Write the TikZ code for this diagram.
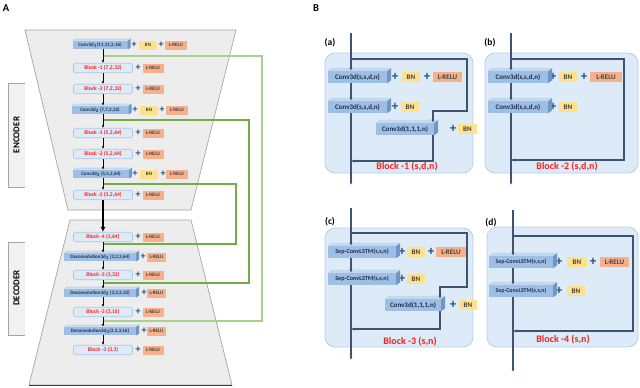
\documentclass[tikz,border=0pt]{standalone}
\usepackage{fontspec}
\setmainfont{Carlito}
\usetikzlibrary{arrows.meta}
\definecolor{trapfill}{HTML}{EDEDED}
\definecolor{trapline}{HTML}{A5A5A5}
\definecolor{blkfill}{HTML}{DEEBF7}
\definecolor{blkline}{HTML}{A9C6E8}
\definecolor{cnvfill}{HTML}{9DBFE6}
\definecolor{cnvside}{HTML}{6F96C6}
\definecolor{cnvtop}{HTML}{C3D7EF}
\definecolor{bnfill}{HTML}{FFE08C}
\definecolor{lrfill}{HTML}{F6B08C}
\definecolor{pluscol}{HTML}{1F4E79}
\definecolor{grnA}{HTML}{A9D18E}
\definecolor{grnB}{HTML}{70AD47}
\definecolor{panfill}{HTML}{DDEAF7}
\definecolor{panline}{HTML}{B7CFEA}
\definecolor{flow}{HTML}{3E5470}
\definecolor{txtnavy}{HTML}{1F2D4A}
\definecolor{blkred}{HTML}{FF2020}
\newcommand\tdside[3]{%
  \fill[cnvside] (#1.south east) -- (#1.north east) -- ([shift={(#2,-#3)}]#1.north east) -- ([shift={(#2,-#3)}]#1.south east) -- cycle;
  \fill[cnvtop] (#1.north west) -- ([shift={(#2,-#3)}]#1.north west) -- ([shift={(#2,-#3)}]#1.north east) -- (#1.north east) -- cycle;}
\tikzset{
  blkA/.style={draw=blkline, fill=blkfill, rounded corners=1.5, line width=0.6, minimum width=59, minimum height=9.5, inner sep=0, font=\fontsize{5.6}{6}\selectfont\bfseries, text=blkred},
  cnvA/.style={fill=cnvfill, minimum height=8.5, inner sep=0, font=\fontsize{5}{6}\selectfont\bfseries, text=txtnavy},
  bnA/.style={fill=bnfill, minimum width=18, minimum height=9, inner sep=0, font=\fontsize{5}{6}\selectfont\bfseries, text=black!75},
  lrA/.style={fill=lrfill, minimum height=9, inner sep=0, font=\fontsize{5}{6}\selectfont\bfseries, text=black!75},
  plA/.style={inner sep=0, font=\fontsize{10}{10}\selectfont\bfseries, text=pluscol},
  arrA/.style={draw=black, line width=0.7, -{Latex[length=2.6,width=2.6]}},
  grn/.style={line width=1.2, -{Latex[length=3,width=3]}},
  cnvB/.style={fill=cnvfill, minimum height=12, inner sep=0, font=\fontsize{7}{8}\selectfont\bfseries, text=txtnavy},
  bnB/.style={fill=bnfill, minimum width=18, minimum height=10, inner sep=0, font=\fontsize{7}{8}\selectfont\bfseries, text=black!75},
  lrB/.style={fill=lrfill, minimum height=10, inner sep=0, font=\fontsize{7}{8}\selectfont\bfseries, text=black!75},
  plB/.style={inner sep=0, font=\fontsize{13}{13}\selectfont\bfseries, text=pluscol},
  flw/.style={draw=flow, line width=1.1, -{Latex[length=3.5,width=3.2]}},
  panel/.style={fill=panfill, draw=panline, line width=0.8, rounded corners=10},
  blkB/.style={inner sep=0, font=\fontsize{10}{11}\selectfont\bfseries, text=blkred},
  lab/.style={inner sep=0, font=\fontsize{9.5}{10}\selectfont\bfseries},
}
\begin{document}
\begin{tikzpicture}[x=1pt,y=-1pt]
\useasboundingbox (0,0) rectangle (640,388);
\fill[white] (0,0) rectangle (640,388);
% ---------- Panel A ----------
\node[lab, font=\fontsize{10.5}{11}\selectfont\bfseries] (labA) at (6,8) {A};
\node[lab, font=\fontsize{10.5}{11}\selectfont\bfseries] (labB) at (316,8) {B};
\filldraw[fill=trapfill, draw=trapline, line width=0.7] (25,30) -- (236,30) -- (191,210) -- (68,210) -- cycle;
\filldraw[fill=trapfill, draw=trapline, line width=0.7] (70,220) -- (191,220) -- (232,385) -- (29,385) -- cycle;
\draw[black!75, line width=1] (29,385) -- (232,385);
% side labels
\fill[black!5] (8,83) rectangle (25,187);
\draw[trapline, line width=0.7] (25,83) -- (8,83) -- (8,187) -- (25,187);
\node[rotate=90, inner sep=0, font=\fontsize{9}{9}\selectfont\bfseries] (enc) at (16.5,135) {ENCODER};
\fill[black!5] (8,242) rectangle (25,335);
\draw[trapline, line width=0.7] (25,242) -- (8,242) -- (8,335) -- (25,335);
\node[rotate=90, inner sep=0, font=\fontsize{9}{9}\selectfont\bfseries] (dec) at (16.5,288) {DECODER};
% green skip connections
\coordinate (g1s) at (103,56); \coordinate (g1e) at (103,321);
\coordinate (g2s) at (103,120); \coordinate (g2e) at (103,283);
\coordinate (g3s) at (103,184); \coordinate (g3e) at (103,244);
\draw[grn, draw=grnA] (g1s) -- (262,56) |- (g1e);
\draw[grn, draw=grnB] (g2s) -- (249,120) |- (g2e);
\draw[grn, draw=grnB] (g3s) -- (236,184) |- (g3e);
% conv rows
\node[cnvA, minimum width=55] (c1) at (100,45) {Conv3d\textsubscript{1}(11,11,2,16)};
\node[plA] (c1p1) at (134,45) {+};
\node[bnA] (c1bn) at (148,45) {BN};
\node[plA] (c1p2) at (161,45) {+};
\node[lrA, minimum width=22] (c1lr) at (176,45) {L-RELU};
\node[cnvA, minimum width=57] (c2) at (100,110) {Conv3d\textsubscript{2} (7,7,2,32)};
\node[plA] (c2p1) at (135,110) {+};
\node[bnA] (c2bn) at (149,110) {BN};
\node[plA] (c2p2) at (162,110) {+};
\node[lrA, minimum width=22] (c2lr) at (177,110) {L-RELU};
\node[cnvA, minimum width=56] (c3) at (101,174) {Conv3d\textsubscript{3} (5,5,2,64)};
\node[plA] (c3p1) at (135,174) {+};
\node[bnA] (c3bn) at (149,174) {BN};
\node[plA] (c3p2) at (163,174) {+};
\node[lrA, minimum width=22] (c3lr) at (177,174) {L-RELU};
% deconv rows
\node[cnvA, minimum width=72] (d1) at (100,257) {Deconvolution3d\textsubscript{1} (3,3,3,64)};
\node[plA] (d1p) at (143,257) {+};
\node[lrA, minimum width=19] (d1lr) at (156.5,257) {L-RELU};
\node[cnvA, minimum width=72] (d2) at (100,293) {Deconvolution3d\textsubscript{2} (3,3,3,32)};
\node[plA] (d2p) at (144,293) {+};
\node[lrA, minimum width=19] (d2lr) at (156.5,293) {L-RELU};
\node[cnvA, minimum width=72] (d3) at (100,331) {Deconvolution3d\textsubscript{3}(3,3,3,16)};
\node[plA] (d3p) at (144,331) {+};
\node[lrA, minimum width=19] (d3lr) at (156.5,331) {L-RELU};
\foreach \n in {c1,c2,c3,d1,d2,d3} {\tdside{\n}{3}{2}}
% block rows
\foreach \n/\y/\t in {b1/68/{Block -1 (7,2,32)}, b2/89/{Block -2 (7,2,32)}, b3/133/{Block -1 (5,2,64)}, b4/154/{Block -2 (5,2,64)}, b5/195/{Block -2 (3,2,64)}, b6/237/{Block -4 (3,64)}, b7/275/{Block -3 (3,32)}, b8/312/{Block -3 (3,16)}, b9/350/{Block -3 (3,3)}} {
  \node[blkA] (\n) at (103,\y) {\t};
  \node[plA] (\n-p) at (138,\y) {+};
  \node[lrA, minimum width=21] (\n-l) at (153,\y) {L-RELU};
}
% arrows
\coordinate (ax) at (103,0);
\foreach \u/\v in {c1/b1,b1/b2,b2/c2,c2/b3,b3/b4,b4/c3,c3/b5,b6/d1,d1/b7,b7/d2,d2/b8,b8/d3,d3/b9}
  \draw[arrA] (\u.south -| ax) -- (\v.north -| ax);
\draw[black, line width=2, -{Latex[length=5,width=5]}] (b5.south -| ax) -- (b6.north -| ax);
% ---------- Panel B (a) ----------
\draw[panel] (325,53) rectangle (473,173);
\node[lab] (la) at (330,43) {(a)};
\coordinate (aT) at (351,33); \coordinate (aB) at (351,185);
\coordinate (aS) at (351,59); \coordinate (aK) at (433,0); \coordinate (aJ) at (351,161);
\node[cnvB, minimum width=59] (pa1) at (357.5,77) {Conv3d(s,s,d,n)};
\node[plB] (pa1p1) at (395,77) {+};
\node[bnB] (pa1bn) at (411,77) {BN};
\node[plB] (pa1p2) at (427,77) {+};
\node[lrB, minimum width=29] (pa1lr) at (447.5,77) {L-RELU};
\node[cnvB, minimum width=59] (pa2) at (357.5,107) {Conv3d(s,s,d,n)};
\node[plB] (pa2p) at (395,107) {+};
\node[bnB] (pa2bn) at (410,107) {BN};
\node[cnvB, minimum width=58] (pa3) at (405,129) {Conv3d(1,1,1,n)};
\node[plB] (pa3p) at (453,129) {+};
\node[bnB, minimum width=19] (pa3bn) at (467.5,129) {BN};
\node[blkB] (pa4) at (407,167) {Block -1 (s,d,n)};
\foreach \n in {pa1,pa2,pa3} {\tdside{\n}{4}{3}}
\draw[flw] (aT) -- (pa1.north -| aT);
\draw[flw] (pa1.south -| aT) -- (pa2.north -| aT);
\draw[flw] (pa2.south -| aT) -- (aB);
\draw[flw] (aS) -- (467,59) -- (467,111) -| (pa3.north -| aK);
\draw[flw] (pa3.south -| aK) |- (aJ);
% ---------- (b) ----------
\draw[panel] (485,53) rectangle (638,173);
\node[lab] (lb) at (490,43) {(b)};
\coordinate (bT) at (511,33); \coordinate (bB) at (511,185);
\coordinate (bS) at (511,59); \coordinate (bJ) at (511,160);
\node[cnvB, minimum width=60] (pb1) at (518,77) {Conv3d(s,s,d,n)};
\node[plB] (pb1p1) at (553,77) {+};
\node[bnB] (pb1bn) at (568,77) {BN};
\node[plB] (pb1p2) at (584,77) {+};
\node[lrB, minimum width=32] (pb1lr) at (606,77) {L-RELU};
\node[cnvB, minimum width=60] (pb2) at (518,107) {Conv3d(s,s,d,n)};
\node[plB] (pb2p) at (553,107) {+};
\node[bnB] (pb2bn) at (568,107) {BN};
\node[blkB] (pb3) at (567,167) {Block -2 (s,d,n)};
\foreach \n in {pb1,pb2} {\tdside{\n}{4}{3}}
\draw[flw] (bT) -- (pb1.north -| bT);
\draw[flw] (pb1.south -| bT) -- (pb2.north -| bT);
\draw[flw] (pb2.south -| bT) -- (bB);
\draw[flw] (bS) -- (624,59) -- (624,160) -- (bJ);
% ---------- (c) ----------
\draw[panel] (325,228) rectangle (473,347);
\node[lab] (lc) at (330,222) {(c)};
\coordinate (cT) at (351,208); \coordinate (cB) at (351,360);
\coordinate (cS) at (351,233); \coordinate (cK) at (440,0); \coordinate (cJ) at (351,329);
\node[cnvB, minimum width=68, font=\fontsize{6.2}{7}\selectfont\bfseries] (pc1) at (362,252) {Sep-ConvLSTM(s,s,n)};
\node[plB] (pc1p1) at (402,252) {+};
\node[bnB] (pc1bn) at (416,252) {BN};
\node[plB] (pc1p2) at (431,252) {+};
\node[lrB, minimum width=30] (pc1lr) at (451,252) {L-RELU};
\node[cnvB, minimum width=68, font=\fontsize{6.2}{7}\selectfont\bfseries] (pc2) at (362,279) {Sep-ConvLSTM(s,s,n)};
\node[plB] (pc2p) at (402,279) {+};
\node[bnB] (pc2bn) at (416,279) {BN};
\node[cnvB, minimum width=56] (pc3) at (413,305) {Conv3d(1,1,1,n)};
\node[plB] (pc3p) at (453,305) {+};
\node[bnB] (pc3bn) at (468,305) {BN};
\node[blkB] (pc4) at (410,342) {Block -3 (s,n)};
\foreach \n in {pc1,pc2,pc3} {\tdside{\n}{4}{3}}
\draw[flw] (cT) -- (pc1.north -| cT);
\draw[flw] (pc1.south -| cT) -- (pc2.north -| cT);
\draw[flw] (pc2.south -| cT) -- (cB);
\draw[flw] (cS) -- (467,233) -- (467,287) -| (pc3.north -| cK);
\draw[flw] (pc3.south -| cK) |- (cJ);
% ---------- (d) ----------
\draw[panel] (487,227) rectangle (638,347);
\node[lab] (ld) at (491,223) {(d)};
\coordinate (dT) at (513,210); \coordinate (dB) at (513,372);
\coordinate (dS) at (513,236); \coordinate (dJ) at (513,331);
\node[cnvB, minimum width=64, font=\fontsize{5.9}{7}\selectfont\bfseries] (pd1) at (521,262) {Sep-ConvLSTM(s,s,n)};
\node[plB] (pd1p1) at (559,262) {+};
\node[bnB, minimum width=20] (pd1bn) at (577,262) {BN};
\node[plB] (pd1p2) at (593,262) {+};
\node[lrB, minimum width=29] (pd1lr) at (614.5,262) {L-RELU};
\node[cnvB, minimum width=64, font=\fontsize{5.9}{7}\selectfont\bfseries] (pd2) at (521,291) {Sep-ConvLSTM(s,s,n)};
\node[plB] (pd2p) at (559,291) {+};
\node[bnB] (pd2bn) at (576,291) {BN};
\node[blkB] (pd3) at (563,340) {Block -4 (s,n)};
\foreach \n in {pd1,pd2} {\tdside{\n}{4}{3}}
\draw[flw] (dT) -- (pd1.north -| dT);
\draw[flw] (pd1.south -| dT) -- (pd2.north -| dT);
\draw[flw] (pd2.south -| dT) -- (dB);
\draw[flw] (dS) -- (633,236) -- (633,331) -- (dJ);
\end{tikzpicture}
\end{document}
